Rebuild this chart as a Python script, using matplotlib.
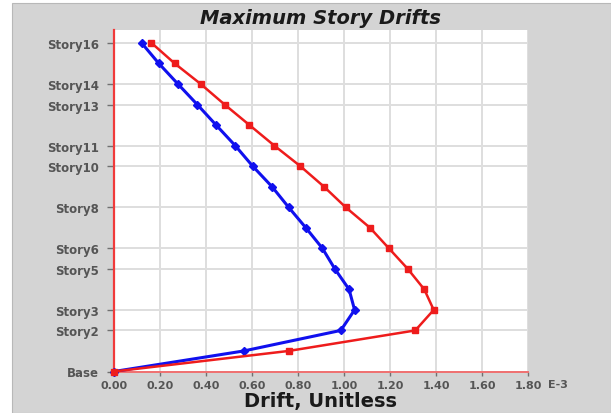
import matplotlib
matplotlib.use("Agg")
import matplotlib.pyplot as plt
from matplotlib.patches import Rectangle

# Story levels (0 = Base) and drift values (x 1E-3)
levels = list(range(17))
drift_x = [0.000, 0.564, 0.986, 1.046, 1.022, 0.960, 0.906, 0.834, 0.759,
           0.687, 0.603, 0.527, 0.444, 0.362, 0.278, 0.195, 0.120]
drift_y = [0.000, 0.759, 1.310, 1.390, 1.349, 1.277, 1.195, 1.113, 1.007,
           0.913, 0.810, 0.697, 0.589, 0.481, 0.377, 0.264, 0.163]

tick_levels = [0, 2, 3, 5, 6, 8, 10, 11, 13, 14, 16]
tick_names = ["Base", "Story2", "Story3", "Story5", "Story6", "Story8",
              "Story10", "Story11", "Story13", "Story14", "Story16"]
x_ticks = [0.0, 0.2, 0.4, 0.6, 0.8, 1.0, 1.2, 1.4, 1.6, 1.8]

W, H = 611, 414
fig = plt.figure(figsize=(W / 100, H / 100), dpi=100, facecolor="white")

# grey panel behind the chart
fig.patches.append(Rectangle((12 / W, 0), 1 - 12 / W, 1 - 4 / H,
                             transform=fig.transFigure, facecolor="#d4d4d4",
                             edgecolor="#b8b8b8", lw=0.8, zorder=-10))

ax = fig.add_axes([114 / W, (H - 372.5) / H, (528 - 114) / W, (372.5 - 31) / H])
ax.set_zorder(1)
ax.set_facecolor("white")

ax.plot(drift_x, levels, color="#1010ee", lw=2.2, marker="D", ms=4.2,
        mec="#1010ee", mfc="#1010ee", zorder=3, clip_on=False)
ax.plot(drift_y, levels, color="#ee1c1c", lw=1.8, marker="s", ms=4,
        mec="#ee1c1c", mfc="#ee1c1c", zorder=4, clip_on=False)

ax.set_xlim(0, 1.8)
ax.set_ylim(0, 16.63)

ax.set_xticks(x_ticks)
ax.set_xticklabels([f"{v:.2f}" for v in x_ticks])
ax.set_yticks(tick_levels)
ax.set_yticklabels(tick_names)

ax.grid(True, color="#dedede", lw=1.4)
ax.set_axisbelow(True)

for s in ("top", "right"):
    ax.spines[s].set_visible(False)
ax.spines["left"].set_color("#f03a3a")
ax.spines["left"].set_linewidth(1.6)
ax.spines["bottom"].set_color("#f07070")
ax.spines["bottom"].set_linewidth(1.4)

ax.tick_params(axis="y", length=5, width=1, color="#707070", pad=6,
               labelsize=8.5, labelcolor="#555555")
ax.tick_params(axis="x", length=3, width=1, color="#707070", pad=3,
               labelsize=8, labelcolor="#555555")
for lab in ax.get_xticklabels() + ax.get_yticklabels():
    lab.set_fontweight("bold")

ax.annotate("E-3", xy=(1, 0), xycoords="axes fraction", xytext=(20, -8),
            textcoords="offset pixels", ha="left", va="top",
            fontsize=8, fontweight="bold", color="#555555")

ax.set_title("Maximum Story Drifts", fontsize=14, fontweight="bold",
             fontstyle="italic", color="#1a1a1a", pad=5)
ax.set_xlabel("Drift, Unitless", fontsize=14, fontweight="bold",
              color="#1a1a1a", labelpad=1)

fig.savefig("out.png", dpi=100, facecolor=fig.get_facecolor())
